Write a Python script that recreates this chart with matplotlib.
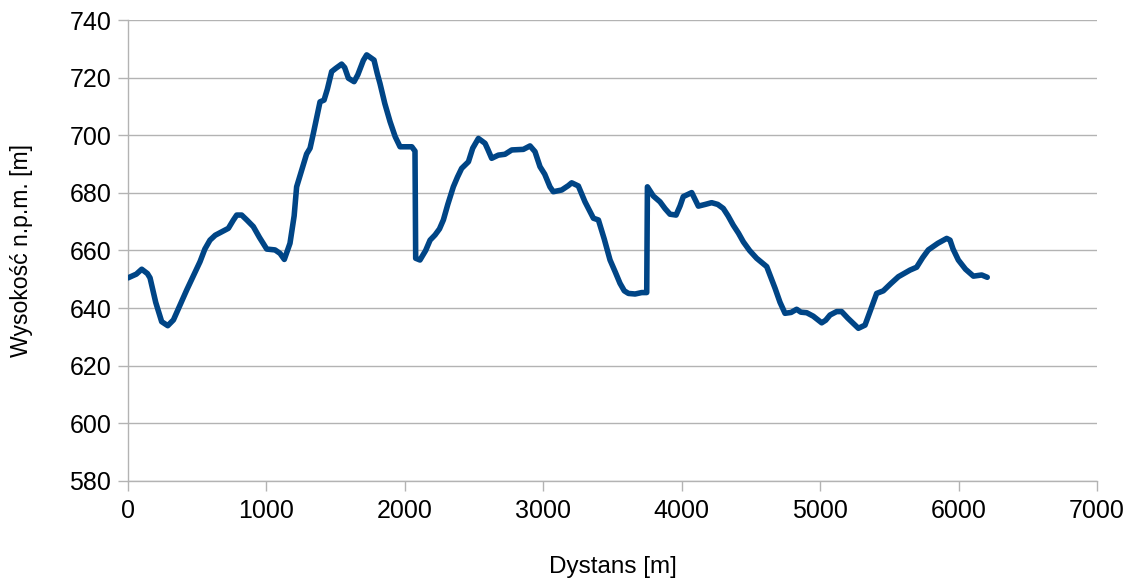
import matplotlib
matplotlib.use("Agg")
import matplotlib.pyplot as plt

# profil wysokosci: dystans [m] i wysokosc n.p.m. [m]
dystans = [0, 60, 99, 140, 159, 200, 243, 287, 328, 380, 424, 475, 520, 555, 592,
           630, 665, 725, 760, 785, 821, 860, 905, 950, 1002, 1062, 1098, 1129, 1170,
           1200, 1218, 1255, 1290, 1315, 1339, 1387, 1416, 1440, 1471, 1500, 1543,
           1565, 1592, 1633, 1660, 1700, 1724, 1777, 1800, 1820, 1855, 1893, 1930,
           1965, 2025, 2050, 2073, 2078, 2109, 2150, 2182, 2218, 2250, 2278, 2310,
           2350, 2380, 2410, 2459, 2490, 2531, 2579, 2600, 2627, 2675, 2723, 2772,
           2856, 2904, 2940, 2976, 3010, 3048, 3072, 3133, 3180, 3205, 3253, 3301,
           3362, 3398, 3440, 3482, 3520, 3554, 3585, 3615, 3663, 3711, 3747, 3752,
           3795, 3843, 3880, 3915, 3959, 3988, 4011, 4072, 4120, 4170, 4216, 4260,
           4300, 4335, 4372, 4410, 4445, 4490, 4541, 4614, 4674, 4710, 4746, 4790,
           4830, 4860, 4903, 4950, 5011, 5040, 5071, 5119, 5155, 5200, 5276, 5324,
           5365, 5408, 5456, 5510, 5565, 5649, 5697, 5740, 5781, 5850, 5914, 5938,
           5960, 5998, 6050, 6107, 6167, 6207]
wysokosc = [650.5, 651.8, 653.5, 652, 650.5, 642, 635.3, 633.9, 635.9, 641.5, 646.3,
            651.5, 656.1, 660.5, 663.6, 665.3, 666.2, 667.7, 670.5, 672.3, 672.3,
            670.5, 668.3, 664.5, 660.5, 660.2, 659, 656.9, 662.5, 672, 682.1, 687.9,
            693.5, 695.5, 700.7, 711.6, 712.2, 716, 722.1, 723.2, 724.7, 723.5, 719.8,
            718.6, 721, 726, 727.9, 726.1, 721.5, 718, 711, 704.7, 699.5, 696, 696,
            696, 694.5, 657.3, 656.7, 660, 663.6, 665.4, 667.5, 670.6, 676, 682.1,
            685.5, 688.5, 690.8, 695.5, 698.9, 697.2, 695, 692, 693.1, 693.4, 694.9,
            695.1, 696.3, 694.3, 689.1, 686.5, 682.1, 680.4, 681, 682.5, 683.5, 682.4,
            676.9, 671.2, 670.6, 664, 656.7, 652.5, 648.6, 646, 645.1, 644.9, 645.4,
            645.4, 682.1, 678.9, 676.9, 674.5, 672.6, 672.3, 675.5, 678.7, 680.1,
            675.4, 676, 676.6, 676, 674.6, 672, 668.8, 666, 663, 660, 657.3, 654.4,
            646.9, 642, 638.2, 638.5, 639.6, 638.6, 638.4, 637.2, 634.9, 635.8, 637.6,
            638.8, 638.8, 636.5, 633, 634.1, 639.5, 645.1, 646, 648.5, 650.9, 653.2,
            654.2, 657.5, 660.2, 662.5, 664.2, 663.6, 660.5, 656.7, 653.5, 651.1,
            651.5, 650.7]

plt.rcParams["font.family"] = ["Liberation Sans", "DejaVu Sans"]

fig = plt.figure(figsize=(11.34, 5.85), dpi=100)
ax = fig.add_axes([0.1129, 0.1778, 0.8545, 0.788])

ax.plot(dystans, wysokosc, color="#004586", linewidth=4,
        solid_joinstyle="round", solid_capstyle="round", zorder=3)

ax.set_xlim(0, 7000)
ax.set_ylim(580, 740)
ax.set_xticks(range(0, 7001, 1000))
ax.set_yticks(range(580, 741, 20))

ax.grid(axis="y", color="#b3b3b3", linewidth=1)
ax.set_axisbelow(True)
for s in ["top", "right"]:
    ax.spines[s].set_visible(False)
for s in ["left", "bottom"]:
    ax.spines[s].set_color("#b3b3b3")
    ax.spines[s].set_linewidth(1)

ax.tick_params(axis="both", colors="#b3b3b3", length=7, width=1,
               labelsize=18, labelcolor="black")
ax.tick_params(axis="x", pad=6)
ax.tick_params(axis="y", pad=5)

ax.set_xlabel("Dystans [m]", fontsize=17.5, labelpad=24)
ax.set_ylabel("Wysokość n.p.m. [m]", fontsize=16.6, labelpad=26)

fig.savefig("out.png", dpi=100)
